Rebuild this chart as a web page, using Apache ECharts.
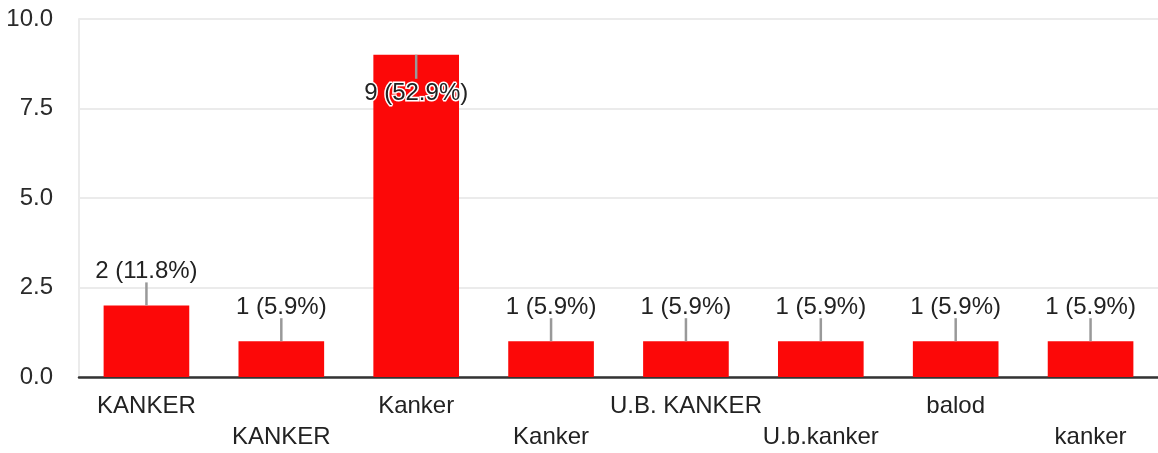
<!DOCTYPE html>
<html>
<head>
<meta charset="utf-8">
<script src="https://cdn.jsdelivr.net/npm/echarts@6/dist/echarts.min.js"></script>
<style>
html,body{margin:0;padding:0;background:#fff;}
#chart{width:1158px;height:453px;}
</style>
</head>
<body>
<div id="chart"></div>
<script>
var categories = ['KANKER', 'KANKER', 'Kanker', 'Kanker', 'U.B. KANKER', 'U.b.kanker', 'balod', 'kanker'];
var counts = [2, 1, 9, 1, 1, 1, 1, 1];
var yTicks = [0, 2.5, 5, 7.5, 10];

var total = counts.reduce(function (a, b) { return a + b; }, 0);
var labelTexts = counts.map(function (v) {
  return v + ' (' + (v / total * 100).toFixed(1) + '%)';
});

var FONT = '"Liberation Sans", Arial, sans-serif';
var chart = echarts.init(document.getElementById('chart'), null, { renderer: 'canvas' });

chart.setOption({
  animation: false,
  grid: { left: 79, right: 0, top: 19, bottom: 76, containLabel: false },
  xAxis: {
    type: 'category',
    data: categories,
    axisLine: { show: true, lineStyle: { color: '#333', width: 2.5 } },
    axisTick: { show: false },
    axisLabel: {
      interval: 0,
      margin: 14,
      color: '#222',
      fontFamily: FONT,
      fontSize: 24,
      lineHeight: 31,
      verticalAlign: 'top',
      formatter: function (v, i) {
        return i % 2 ? '\n' + v : v;
      }
    }
  },
  yAxis: {
    type: 'value',
    min: yTicks[0],
    max: yTicks[yTicks.length - 1],
    interval: 2.5,
    axisLine: { show: true, lineStyle: { color: '#ebebeb', width: 2 } },
    axisTick: { show: false },
    splitLine: { show: true, lineStyle: { color: '#ebebeb', width: 2 } },
    axisLabel: {
      margin: 26,
      color: '#2a2a2a',
      fontFamily: FONT,
      fontSize: 24,
      formatter: function (v) { return v.toFixed(1); }
    }
  },
  series: [
    {
      type: 'bar',
      data: counts,
      barWidth: '63.5%',
      itemStyle: { color: '#fc0808' },
      z: 2
    },
    {
      type: 'custom',
      data: counts.map(function (v, i) { return [i, v]; }),
      z: 5,
      renderItem: function (params, api) {
        var idx = api.value(0);
        var val = api.value(1);
        var p = api.coord([idx, val]);
        var top = params.coordSys.y;
        var text = labelTexts[params.dataIndex];
        var above = (p[1] - 36 - 14) > top;
        var lineEnd, textY;
        if (above) {
          lineEnd = p[1] - 23;
          textY = p[1] - 34;
        } else {
          lineEnd = p[1] + 24;
          textY = p[1] + 39;
        }
        return {
          type: 'group',
          children: [
            {
              type: 'line',
              shape: { x1: p[0], y1: p[1], x2: p[0], y2: lineEnd },
              style: { stroke: '#999', lineWidth: 2.5 }
            },
            {
              type: 'text',
              x: p[0],
              y: textY,
              style: {
                text: text,
                fill: '#222',
                font: '24px ' + FONT,
                align: 'center',
                verticalAlign: 'middle',
                stroke: '#fff',
                lineWidth: 3
              },
              z2: 10
            }
          ]
        };
      }
    }
  ]
});
</script>
</body>
</html>
